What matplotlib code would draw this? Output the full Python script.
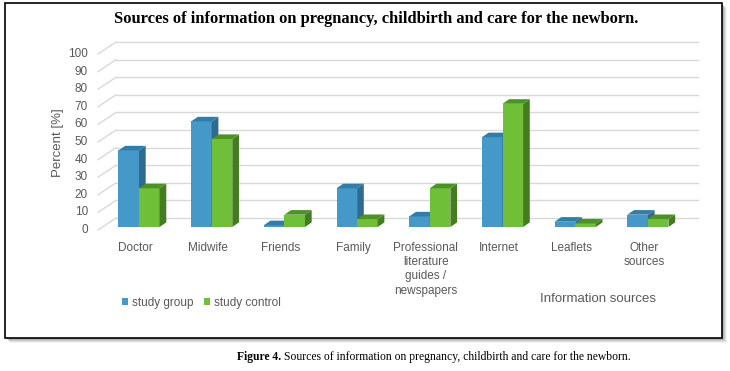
import matplotlib
matplotlib.use("Agg")
import matplotlib.pyplot as plt
from matplotlib.patches import Rectangle, Polygon, Patch
from matplotlib.transforms import ScaledTranslation, IdentityTransform
import numpy as np

categories = ["Doctor", "Midwife", "Friends", "Family",
              "Professional\nliterature\nguides /\nnewspapers",
              "Internet", "Leaflets", "Other\nsources"]
study_group = [43.5, 60, 1, 22, 6, 51, 3, 7]
study_control = [22, 50, 7, 4.5, 22, 70, 2, 4.5]
y_ticks = list(range(0, 101, 10))
series_names = ["study group", "study control"]

W, H = 730, 371
DPI = 100
fig = plt.figure(figsize=(W / DPI, H / DPI), dpi=DPI)
fig.patch.set_facecolor("white")

def fx(px):
    return px / W

def fy(py):
    return 1 - py / H

# Chart frame with shadow
for i, a in enumerate([0.10, 0.16, 0.22, 0.30]):
    o = 5 - i
    fig.patches.append(Rectangle((fx(5 + o), fy(338 + o)), fx(722 - 5), (338 - 3) / H,
                                 transform=fig.transFigure, facecolor="#808080",
                                 edgecolor="none", alpha=a, zorder=0))
fig.patches.append(Rectangle((fx(5), fy(338)), fx(722 - 5), (338 - 3) / H,
                             transform=fig.transFigure, facecolor="white",
                             edgecolor="black", lw=1.2, zorder=1))

# Axes (front plane of bars)
ax_left, ax_right = 98, 680
y0_px, y100_px = 227, 51
ax = fig.add_axes([fx(ax_left), fy(y0_px), (ax_right - ax_left) / W, (y0_px - y100_px) / H])
ax.set_zorder(2)
ax.patch.set_alpha(0)
for s in ax.spines.values():
    s.set_visible(False)
ax.set_xticks([])
ax.set_yticks([])
px_per_unit = 72.7
xmin = -(139 - ax_left) / px_per_unit
xmax = xmin + (ax_right - ax_left) / px_per_unit
ax.set_xlim(xmin, xmax)
ax.set_ylim(0, 100)

def off(dx, dy):
    # dx, dy in image pixels (dy positive = down)
    return ScaledTranslation(dx / DPI, -dy / DPI, fig.dpi_scale_trans)

grid_color = "#d9d9d9"
depth_x = 18
ytr = ax.get_yaxis_transform()
for v in y_ticks:
    ax.plot([0, 1], [v, v], transform=ytr + off(depth_x, -9), color=grid_color,
            lw=1.0, clip_on=False, zorder=0)
    p0 = (ytr + off(0, 3)).transform((0, v))
    p1 = (ytr + off(depth_x, -9)).transform((0, v))
    ax.add_line(plt.Line2D([p0[0], p1[0]], [p0[1], p1[1]], transform=IdentityTransform(),
                           color=grid_color, lw=1.0, clip_on=False, zorder=0))
    ax.text(0, v, str(v), transform=ytr + off(-10, 3), ha="right", va="center",
            fontsize=8.5, color="#595959", family="Liberation Sans")

ax.text(0, 50, "Percent [%]", transform=ytr + off(-40, 3.5), rotation=90,
        ha="center", va="center", fontsize=9.5, color="#595959", family="Liberation Sans")

# Bars
bw = 0.283
x = np.arange(len(categories))
colors = [("#4599c9", "#2e6b8f", "#357ca5"), ("#6fbf38", "#437d20", "#4d9228")]
bdx, bdy = 6.7, 4.6  # display pixel depth (right, up)

def draw_bar(xl, h, cols, z):
    front, side, top = cols
    ax.bar(xl, h, width=bw, align="edge", color=front, edgecolor="none", zorder=z)
    (x0, y0b) = ax.transData.transform((xl, 0))
    (x1, y1) = ax.transData.transform((xl + bw, h))
    topp = [(x0, y1), (x1, y1), (x1 + bdx, y1 + bdy), (x0 + bdx, y1 + bdy)]
    sidep = [(x1, y0b), (x1 + bdx, y0b + bdy), (x1 + bdx, y1 + bdy), (x1, y1)]
    ax.add_patch(Polygon(sidep, closed=True, transform=IdentityTransform(), facecolor=side,
                         edgecolor="none", zorder=z, clip_on=False))
    ax.add_patch(Polygon(topp, closed=True, transform=IdentityTransform(), facecolor=top,
                         edgecolor="none", zorder=z, clip_on=False))

for i in range(len(categories)):
    draw_bar(x[i] - bw, study_group[i], colors[0], 3 + 2 * i)
    draw_bar(x[i], study_control[i], colors[1], 4 + 2 * i)

# Category labels
xtr = ax.get_xaxis_transform()
for i, c in enumerate(categories):
    ax.text(x[i], 0, c, transform=xtr + off(-4, 15), ha="center", va="top",
            fontsize=8.5, color="#595959", family="Liberation Sans", linespacing=1.25)

fig.text(fx(598), fy(299), "Information sources", ha="center", va="center",
         fontsize=9.5, color="#595959", family="Liberation Sans")

# Legend
handles = [Patch(facecolor=colors[0][0]), Patch(facecolor=colors[1][0])]
leg = fig.legend(handles, series_names, loc="center left", bbox_to_anchor=(fx(117), fy(303)),
                 ncol=2, frameon=False, handlelength=0.55, handleheight=0.55,
                 handletextpad=0.3, columnspacing=0.9, borderaxespad=0,
                 prop={"family": "Liberation Sans", "size": 8.5})
for t in leg.get_texts():
    t.set_color("#595959")

# Title
fig.text(fx(376), fy(19), "Sources of information on pregnancy, childbirth and care for the newborn.",
         ha="center", va="center", fontsize=11.9, fontweight="bold", family="Liberation Serif",
         color="black", zorder=5)

# Caption
r = fig.canvas.get_renderer()
t1 = fig.text(fx(237), fy(357), "Figure 4.", ha="left", va="center", fontsize=8.4,
              fontweight="bold", family="Liberation Serif")
bb = t1.get_window_extent(renderer=r)
fig.text((bb.x1 + 3) / W, fy(357),
         "Sources of information on pregnancy, childbirth and care for the newborn.",
         ha="left", va="center", fontsize=8.4, family="Liberation Serif")

fig.savefig("out.png", dpi=DPI)
